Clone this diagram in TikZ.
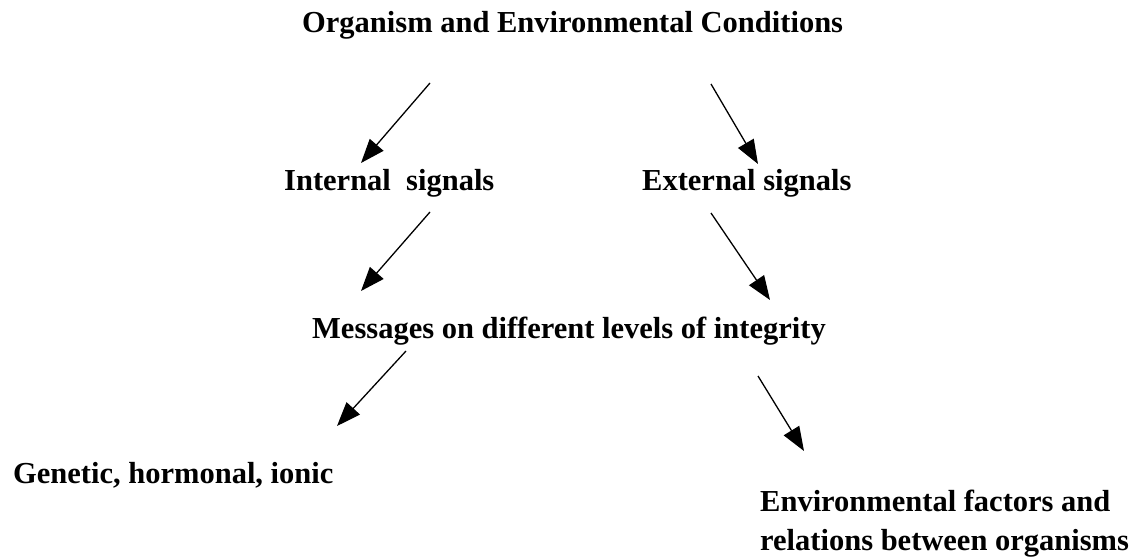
\documentclass[tikz,border=0pt]{standalone}
\usepackage{fontspec}
\setmainfont{Liberation Serif}
\usetikzlibrary{arrows.meta}

\tikzset{
    lbl/.style={anchor=base west, inner sep=0pt, font=\bfseries\fontsize{30.5}{39}\selectfont},
    sig/.style={line width=1.3pt, -{Triangle[length=24pt, width=18pt]}}
}

\begin{document}
\begin{tikzpicture}[x=1pt, y=-1pt]
        \useasboundingbox (0,0) rectangle (1136,559);

        % Textes
        \node[lbl] (orga) at (302,33) {Organism and Environmental Conditions};
        \node[lbl] (intern) at (284,191) {Internal\ \ signals};
        \node[lbl] (extern) at (642,191) {External signals};
        \node[lbl] (msg) at (312,338) {Messages on different levels of integrity};
        \node[lbl] (genet) at (13,483) {Genetic, hormonal, ionic};
        % ancre base = ligne du bas
        \node[lbl, align=left] (envir) at (760,550) {Environmental factors and\\relations between organisms};

        % Extrémités des flèches
        \coordinate (a1s) at (430,83);  \coordinate (a1e) at (361,163);
        \coordinate (a2s) at (711,84);  \coordinate (a2e) at (758,164);
        \coordinate (a3s) at (430,212); \coordinate (a3e) at (361,291);
        \coordinate (a4s) at (711,213); \coordinate (a4e) at (770,300);
        \coordinate (a5s) at (406,351); \coordinate (a5e) at (337,426);
        \coordinate (a6s) at (758,376); \coordinate (a6e) at (804,451);

        % Flèches
        \foreach \s/\e in {a1s/a1e, a2s/a2e, a3s/a3e, a4s/a4e, a5s/a5e, a6s/a6e}{
            \draw[sig] (\s) -- (\e);
        }

    \end{tikzpicture}
\end{document}
